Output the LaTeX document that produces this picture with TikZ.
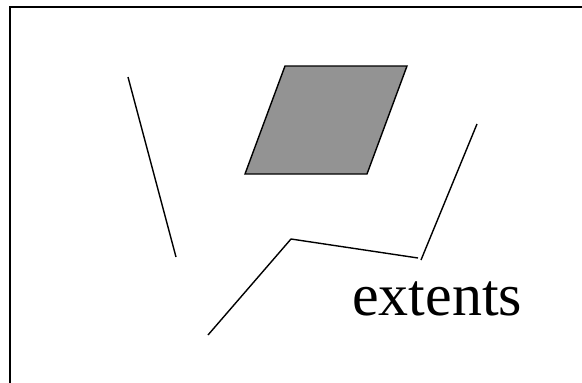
\documentclass[tikz,border=0pt]{standalone}
\usepackage{fontspec}
\setmainfont{Liberation Serif}
\definecolor{pgray}{HTML}{939393}
\begin{document}
\begin{tikzpicture}[x=1pt,y=-1pt,
  stroke/.style={line width=1.4pt,black},
  frame/.style={line width=2pt,black},
  label/.style={inner sep=0pt,anchor=base west,font=\fontsize{60}{72}\selectfont}]
\useasboundingbox (0,0) rectangle (582,383);
\clip (0,0) rectangle (582,383);
% frame (left and top edges)
\coordinate (fbl) at (10,390);
\coordinate (ftl) at (10,7);
\coordinate (ftr) at (590,7);
\draw[frame] (fbl) -- (ftl) -- (ftr);
% parallelogram
\coordinate (p1) at (285,66);
\coordinate (p2) at (407,66);
\coordinate (p3) at (367,174);
\coordinate (p4) at (245,174);
\draw[stroke,fill=pgray,line join=miter] (p1) -- (p2) -- (p3) -- (p4) -- cycle;
% left line
\coordinate (a1) at (128,77);
\coordinate (a2) at (176,257);
\draw[stroke] (a1) -- (a2);
% polyline
\coordinate (b1) at (208,335);
\coordinate (b2) at (291,239);
\coordinate (b3) at (418,258);
\draw[stroke] (b1) -- (b2) -- (b3);
% right line
\coordinate (c1) at (477,124);
\coordinate (c2) at (421,260);
\draw[stroke] (c1) -- (c2);
% label
\node[label] (t) at (352,315) {extents};
\end{tikzpicture}
\end{document}
